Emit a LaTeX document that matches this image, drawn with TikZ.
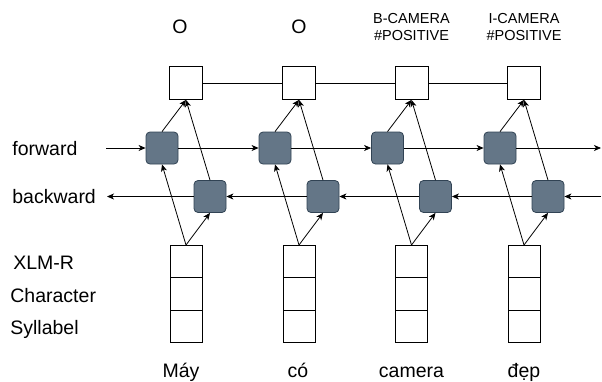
\documentclass[tikz,border=0pt]{standalone}
\usepackage{fontspec}
\setmainfont{Liberation Sans}
\usetikzlibrary{arrows.meta, positioning}

\definecolor{cellfill}{HTML}{647687}
\definecolor{celledge}{HTML}{314354}

\tikzset{
    outbox/.style={draw, minimum width=33pt, minimum height=33pt, inner sep=0pt},
    lstm/.style={draw=celledge, fill=cellfill, rounded corners=4pt, minimum size=32pt, inner sep=0pt},
    embcell/.style={draw, minimum width=32pt, minimum height=32.5pt, inner sep=0pt, outer sep=0pt},
    lbl/.style={font=\fontsize{19.5}{21}\selectfont, inner sep=0pt},
    tag/.style={font=\fontsize{14.5}{17}\selectfont, align=center, inner sep=0pt},
    link/.style={-{Stealth[length=7pt, width=6pt, inset=2pt]}}
}

\begin{document}
\begin{tikzpicture}[x=1pt, y=-1pt, line width=0.8pt]
        \useasboundingbox (0,0) rectangle (602,381);

        % columns: output box, forward cell, backward cell, embedding stack
        \foreach \i/\x in {1/186, 2/299, 3/411.5, 4/524} {
            \node[outbox] (o\i) at (\x,83) {};
            \node[lstm] (f\i) at (\x-24,148) {};
            \node[lstm] (b\i) at (\x+24,196.5) {};
            \node[embcell] (e\i a) at (\x,261.25) {};
            \node[embcell, below=0pt of e\i a] (e\i b) {};
            \node[embcell, below=0pt of e\i b] (e\i c) {};

            \draw[link] (e\i a.north) -- (f\i.south);
            \draw[link] (e\i a.north) -- (b\i.south);
            \draw[link] (f\i.north) -- (o\i.south);
            \draw[link] (b\i.north) -- (o\i.south);
        }

        \draw (o1.east) -- (o2.west) (o2.east) -- (o3.west) (o3.east) -- (o4.west);

        \coordinate (fin) at (106,148);
        \coordinate (fout) at (601,148);
        \coordinate (bin) at (601,196.5);
        \coordinate (bout) at (107,196.5);

        \draw[link] (fin) -- (f1);
        \draw[link] (f1) -- (f2);
        \draw[link] (f2) -- (f3);
        \draw[link] (f3) -- (f4);
        \draw[link] (f4) -- (fout);

        \draw[link] (bin) -- (b4);
        \draw[link] (b4) -- (b3);
        \draw[link] (b3) -- (b2);
        \draw[link] (b2) -- (b1);
        \draw[link] (b1) -- (bout);

        % labels
        \node[lbl, anchor=base west] (fwd) at (12,155) {forward};
        \node[lbl, anchor=base west] (bwd) at (12,203) {backward};
        \node[lbl, anchor=base west] (xlm) at (13,269) {XLM-R};
        \node[lbl, anchor=base west] (chr) at (10,302) {Character};
        \node[lbl, anchor=base west] (syl) at (10,334) {Syllabel};

        \node[lbl, anchor=base] (t1) at (180,33.5) {O};
        \node[lbl, anchor=base] (t2) at (299,33.5) {O};
        \node[tag, anchor=base] (t3) at (411.5,40) {B-CAMERA\\\#POSITIVE};
        \node[tag, anchor=base] (t4) at (524,40) {I-CAMERA\\\#POSITIVE};

        \node[lbl, anchor=base] (w1) at (181,377.7) {Máy};
        \node[lbl, anchor=base] (w2) at (298,377.7) {có};
        \node[lbl, anchor=base] (w3) at (411.5,377.7) {camera};
        \node[lbl, anchor=base] (w4) at (524,377.7) {đẹp};

    \end{tikzpicture}
\end{document}
